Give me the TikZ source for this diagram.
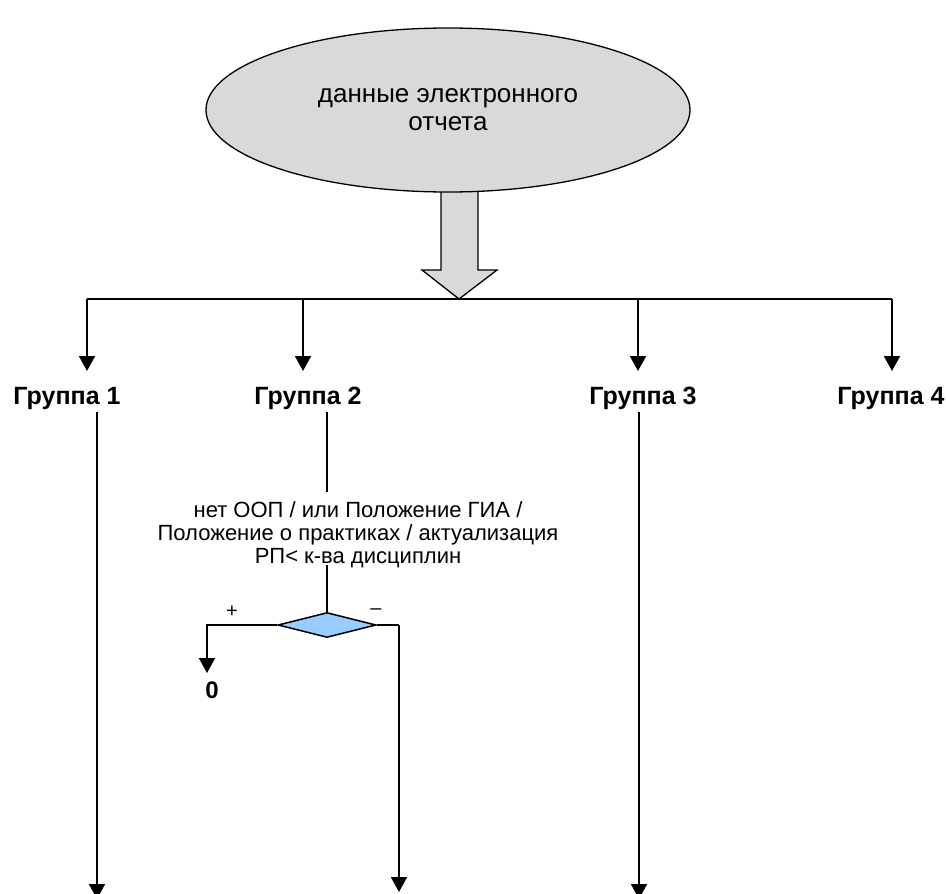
\documentclass[tikz,border=0pt]{standalone}
\usepackage{fontspec}
\setmainfont{Liberation Sans}
\usetikzlibrary{shapes.geometric,arrows.meta}
\definecolor{lblue}{HTML}{99CCFF}

\begin{document}
\begin{tikzpicture}[x=1pt,y=-1pt,
  arr/.style={line width=1.9pt,-{Triangle[width=16pt,length=15pt]}},
  grp/.style={font=\fontsize{25}{28}\selectfont\bfseries,inner sep=0pt}]
\useasboundingbox (0,0) rectangle (946,894);
\filldraw[fill=gray!30,line width=1.3pt] (441,180) -- (441,270) -- (422,270) -- (459,299) -- (497,270) -- (478,270) -- (478,180); % block arrow
\node[ellipse,draw,fill=gray!30,line width=1.3pt,minimum width=484pt,minimum height=164pt,inner sep=0pt,align=center,font=\fontsize{26}{28}\selectfont] (data) at (448,110) {данные электронного\\отчета};
% bus
\coordinate (b1) at (87,299);
\coordinate (b2) at (303,299);
\coordinate (b3) at (638,299);
\coordinate (b4) at (892,299);
\draw[line width=1.9pt] (b1) -- (b4);
\node[grp] (g1) at (67,398) {Группа 1};
\node[grp] (g2) at (308,398) {Группа 2};
\node[grp] (g3) at (643,398) {Группа 3};
\node[grp] (g4) at (891,398) {Группа 4};
\coordinate (t1) at (87,371);
\coordinate (t2) at (303,371);
\coordinate (t3) at (638,371);
\coordinate (t4) at (892,371);
\draw[arr] (b1) -- (t1);
\draw[arr] (b2) -- (t2);
\draw[arr] (b3) -- (t3);
\draw[arr] (b4) -- (t4);
% group 1 and 3
\coordinate (s1) at (97,412);
\coordinate (e1) at (97,899);
\coordinate (s3) at (639,412);
\coordinate (e3) at (639,899);
\draw[arr] (s1) -- (e1);
\draw[arr] (s3) -- (e3);
% group 2
\coordinate (s2) at (327,412);
\coordinate (s2end) at (327,492);
\node[font=\fontsize{22}{23}\selectfont,align=center] (cond) at (358,535) {нет ООП / или Положение ГИА /\\Положение о практиках / актуализация\\РП< к-ва дисциплин};
\draw[line width=1.5pt] (s2) -- (s2end);
\coordinate (c2) at (327,565);
\node[diamond,draw,fill=lblue,line width=1.5pt,minimum width=98pt,minimum height=25pt,inner sep=0pt] (dec) at (327,625) {};
\draw[line width=1.5pt] (c2) -- (dec.north);
\coordinate (z) at (207,673);
\draw[arr] (dec.west) -| (z);
\node[font=\fontsize{24}{26}\selectfont\bfseries,inner sep=0pt] (zero) at (212,690) {0};
\node[font=\fontsize{20}{22}\selectfont,inner sep=0pt] (plus) at (232,612) {+};
\node[font=\fontsize{20}{22}\selectfont,inner sep=0pt] (minus) at (376,612) {–};
\coordinate (r1) at (399,625);
\coordinate (r2) at (399,892);
\draw[line width=1.5pt] (dec.east) -- (r1);
\draw[arr] (r1) -- (r2);
\end{tikzpicture}
\end{document}
